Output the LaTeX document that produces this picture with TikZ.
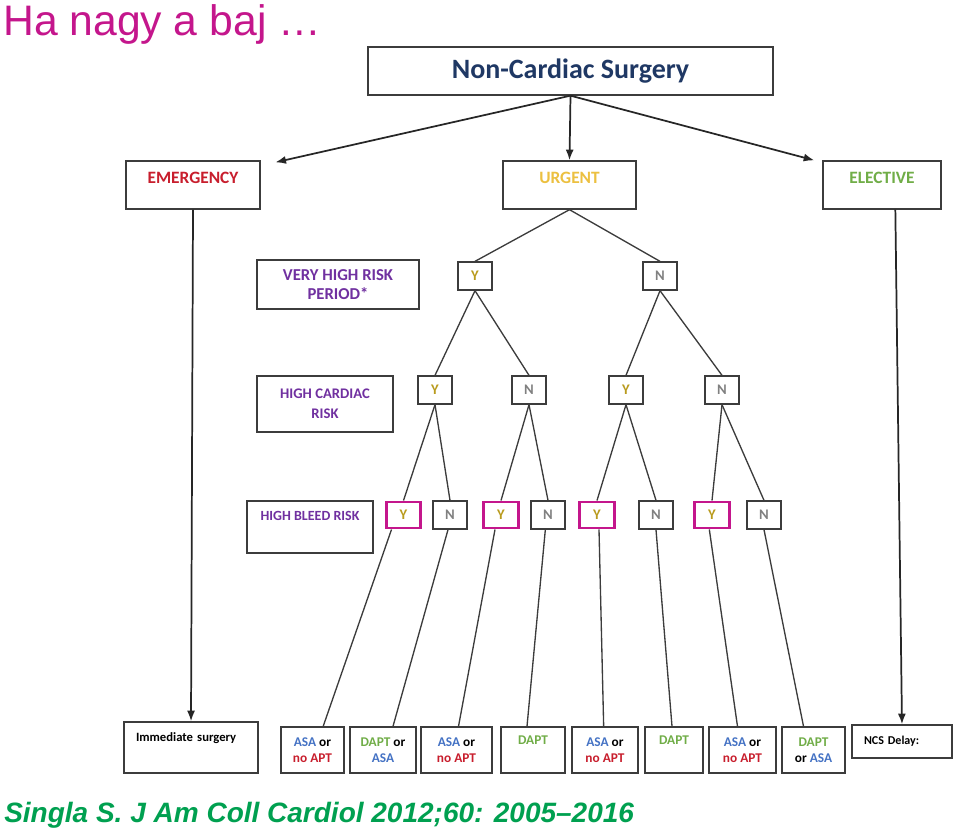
\documentclass[tikz,border=0pt]{standalone}
\usepackage{fontspec}
\setmainfont{Carlito}
\newfontfamily\slidefont{Liberation Sans}
\usetikzlibrary{arrows.meta,positioning}

\definecolor{slidemag}{RGB}{196,22,140}
\definecolor{ncsblue}{RGB}{31,56,100}
\definecolor{emred}{RGB}{200,30,45}
\definecolor{urggold}{RGB}{236,192,64}
\definecolor{elecgreen}{RGB}{112,173,71}
\definecolor{ygold}{RGB}{185,155,30}
\definecolor{ngray}{RGB}{128,128,128}
\definecolor{qpurple}{RGB}{112,48,160}
\definecolor{asablue}{RGB}{68,114,196}
\definecolor{citegreen}{RGB}{0,160,80}
\definecolor{edgegray}{RGB}{60,60,60}

\begin{document}
\begin{tikzpicture}[
  x=0.75pt, y=-0.75pt,
  box/.style={rectangle, draw=edgegray, line width=1pt, fill=white, inner sep=0pt},
  hdr/.style={box, font=\bfseries\fontsize{13}{15}\selectfont,
              text height=16.9pt, text depth=19.1pt, minimum height=36pt},
  lbl/.style={box, align=center, text=qpurple, font=\bfseries\fontsize{11}{15}\selectfont},
  yn/.style={box, minimum width=25.5pt, minimum height=21pt,
             font=\bfseries\fontsize{11}{13}\selectfont},
  ybox/.style={yn, draw=slidemag, line width=2.2pt, minimum width=26pt, minimum height=19.5pt},
  outc/.style={box, align=center, minimum height=34.5pt,
               font=\bfseries\fontsize{10}{12}\selectfont},
  outt/.style={box, minimum height=34.5pt, text height=13pt, text depth=21.5pt,
               font=\bfseries\fontsize{10}{12}\selectfont},
  link/.style={draw=edgegray, line width=1pt},
  arr/.style={draw=black!85, line width=1.3pt, -{Latex[length=8pt,width=6pt]}}
]
\useasboundingbox (0,0) rectangle (960,833);

% slide title and source
\node[anchor=base west, inner sep=0pt, text=slidemag, font=\slidefont\fontsize{32}{36}\selectfont]
  (title) at (3,35) {Ha nagy a baj \ldots};
\node[anchor=base west, inner sep=0pt, text=citegreen,
      font=\slidefont\bfseries\itshape\fontsize{21}{24}\selectfont]
  (cite) at (4,822) {Singla S. J Am Coll Cardiol 2012;60: 2005\textendash 2016};

% top level
\node[box, minimum width=303.75pt, minimum height=36pt, text=ncsblue,
      font=\bfseries\fontsize{21}{24}\selectfont] (ncs) at (570.5,71) {Non-Cardiac Surgery};
\node[hdr, minimum width=100.5pt, text=emred] (emer) at (193,185) {EMERGENCY};
\node[hdr, minimum width=99.75pt, text=urggold] (urg) at (569.5,185) {URGENT};
\node[hdr, minimum width=88.5pt, text=elecgreen] (elec) at (882,185) {ELECTIVE};

\draw[arr] (ncs.south) -- ([xshift=11pt,yshift=-1.5pt]emer.north east);
\draw[arr] (ncs.south) -- (urg.north);
\draw[arr] (ncs.south) -- ([xshift=-6pt]elec.north west);

% row labels
\node[lbl, minimum width=121.5pt, minimum height=36.75pt,
      font=\bfseries\fontsize{12.5}{14.5}\selectfont] (vhr) at (338,284.5) {VERY HIGH RISK\\PERIOD*};
\node[lbl, minimum width=102pt, minimum height=42pt] (hcr) at (325,404) {HIGH CARDIAC\\RISK};
\node[box, minimum width=94.5pt, minimum height=39pt, text height=14.8pt, text depth=24.2pt,
      text=qpurple, font=\bfseries\fontsize{10.5}{12}\selectfont] (hbr) at (310,527) {HIGH BLEED RISK};

% very high risk period
\node[yn, text=ygold] (vy) at (475,276) {Y};
\node[yn, text=ngray] (vn) at (660,276) {N};

% high cardiac risk
\node[yn, text=ygold] (cyy) at (435,390) {Y};
\node[yn, text=ngray] (cyn) at (529,390) {N};
\node[yn, text=ygold] (cny) at (626,390) {Y};
\node[yn, text=ngray] (cnn) at (722,390) {N};

% high bleed risk
\node[ybox, text=ygold] (b1) at (403.5,515) {Y};
\node[yn, text=ngray] (b2) at (450,515) {N};
\node[ybox, text=ygold] (b3) at (501,515) {Y};
\node[yn, text=ngray] (b4) at (548,515) {N};
\node[ybox, text=ygold] (b5) at (597,515) {Y};
\node[yn, text=ngray] (b6) at (656,515) {N};
\node[ybox, text=ygold] (b7) at (712,515) {Y};
\node[yn, text=ngray] (b8) at (764,515) {N};

\draw[link] (urg.south) -- (vy.north);
\draw[link] (urg.south) -- (vn.north);
\foreach \p/\c in {vy/cyy, vy/cyn, vn/cny, vn/cnn,
                   cyy/b1, cyy/b2, cyn/b3, cyn/b4, cny/b5, cny/b6, cnn/b7, cnn/b8}
  \draw[link] (\p.south) -- (\c.north);

% outcomes
\node[outc, minimum width=47.25pt] (o1) at (312.5,750)
  {\textcolor{asablue}{ASA} or\\\textcolor{emred}{no APT}};
\node[outc, minimum width=49.5pt] (o2) at (383,750)
  {\textcolor{elecgreen}{DAPT} or\\\textcolor{asablue}{ASA}};
\node[outc, minimum width=53.25pt] (o3) at (456.5,750)
  {\textcolor{asablue}{ASA} or\\\textcolor{emred}{no APT}};
\node[outt, minimum width=48pt, text=elecgreen] (o4) at (533,750) {DAPT};
\node[outc, minimum width=49.5pt] (o5) at (605,750)
  {\textcolor{asablue}{ASA} or\\\textcolor{emred}{no APT}};
\node[outt, minimum width=43.5pt, text=elecgreen] (o6) at (674,750) {DAPT};
\node[outc, minimum width=50.25pt] (o7) at (742.5,750)
  {\textcolor{asablue}{ASA} or\\\textcolor{emred}{no APT}};
\node[outc, minimum width=47.25pt] (o8) at (813.5,750)
  {\textcolor{elecgreen}{DAPT}\\or \textcolor{asablue}{ASA}};

\foreach \b/\o/\s/\e in {b1/o1/-9/8, b2/o2/-1.5/7.5, b3/o3/-4.5/1.5, b4/o4/-2/-4.5,
                         b5/o5/1.5/-1, b6/o6/0/-1.5, b7/o7/-2/-3.75, b8/o8/0/-7.5}
  \draw[link] ([xshift=\s pt]\b.south) -- ([xshift=\e pt]\o.north);

% emergency and elective ends
\node[box, minimum height=38.25pt, text width=82.5pt, inner xsep=9pt, align=left,
      text height=14.3pt, text depth=23.95pt,
      font=\bfseries\fontsize{9.5}{11}\selectfont] (imm) at (191,747.5) {Immediate surgery};
\node[box, minimum height=24.75pt, text width=57pt, inner xsep=9pt, align=left,
      font=\bfseries\fontsize{9}{11}\selectfont] (delay) at (902,741.5) {NCS Delay:};

\draw[arr] (emer.south) -- (imm.north);
\draw[arr] ([xshift=10pt]elec.south) -- (delay.north);
\end{tikzpicture}
\end{document}
